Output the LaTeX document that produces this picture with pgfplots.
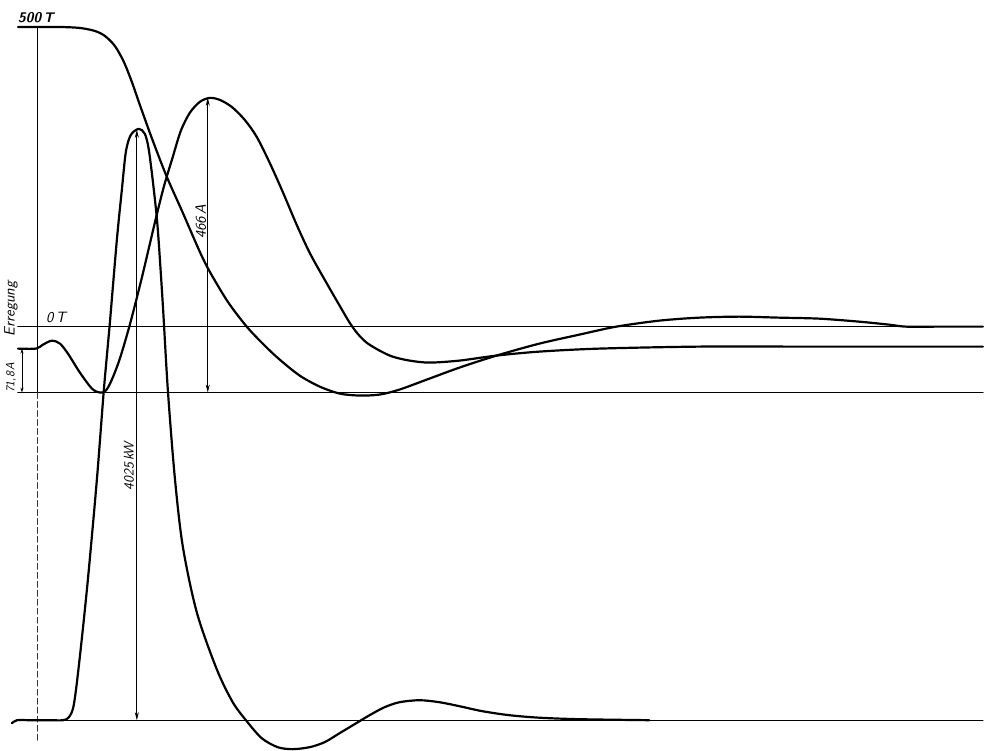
\documentclass[border=0pt]{standalone}
\usepackage{pgfplots}
\pgfplotsset{compat=1.18}
\usetikzlibrary{arrows.meta}
\begin{document}
\begin{tikzpicture}
\begin{axis}[
  scale only axis, width=984pt, height=751pt,
  xmin=0, xmax=984, ymin=0, ymax=751, y dir=reverse,
  hide axis, clip=false,
  every axis plot/.append style={line join=round, line cap=round},
]
\path[draw=none] (axis cs:0,0) rectangle (axis cs:984,751);
% reference lines
\addplot[black, line width=1.6pt] coordinates {(18,327)(984,327)};
\addplot[black, line width=1.6pt] coordinates {(18,393)(984,393)};
\addplot[black, line width=1.2pt] coordinates {(16,721)(984,721)};
\addplot[black, line width=0.8pt] coordinates {(37,27)(37,393)};
\addplot[black!80, line width=0.7pt, dash pattern=on 6pt off 3pt] coordinates {(37,393)(37,742)};
% torque curve 500T -> 0T
\addplot[black, line width=2.2pt, smooth] coordinates {
(18,27)(40,27)(60,27)(80,28)(95,31)(105,36)(115,46)(124,62)(132,82)(140,105)(153,141)(167,177)(183,213)(200,252)(210,272)(228,302)(247,327)(265,346)(280,360)(300,376)(320,387)(340,394)(360,396)(380,395)(400,390)(430,379)(460,368)(497,356)(540,344)(580,335)(617,327)(660,321)(700,318)(740,317)(780,318)(820,319)(860,322)(890,325)(907,327)(940,327)(984,327)};
% excitation current
\addplot[black, line width=2.2pt, smooth] coordinates {
(18,349)(36,349)(43,345)(52,341)(60,344)(68,354)(80,373)(92,389)(100,393)(106,391)(112,380)(120,359)(130,325)(142,278)(155,223)(164,187)(173,157)(181,131)(190,113)(200,102)(210,98)(220,100)(232,107)(245,120)(257,137)(270,163)(283,192)(297,225)(310,253)(325,280)(340,306)(350,323)(358,334)(367,343)(380,351)(393,357)(410,361)(430,363)(460,361)(497,356)(540,352)(600,349)(700,347)(800,347)(984,347)};
% power curve
\addplot[black, line width=2.2pt, smooth] coordinates {
(12,724)(17,721)(30,721)(50,721)(63,721)(69,718)(74,705)(80,657)(88,580)(97,480)(104,390)(110,323)(117,240)(122,190)(126,152)(131,135)(139,129)(145,134)(149,150)(154,190)(158,230)(163,305)(168,390)(175,478)(183,547)(197,613)(217,670)(233,703)(247,722)(262,739)(278,748)(293,750)(310,748)(325,743)(340,734)(355,725)(370,716)(385,708)(400,703)(420,701)(440,703)(460,707)(483,712)(510,716)(540,718.5)(580,720)(650,721)};
% dimension arrows
\addplot[black, line width=0.8pt, {Stealth[length=8pt,width=4pt]}-{Stealth[length=8pt,width=4pt]}] coordinates {(208,98)(208,393)};
\addplot[black, line width=0.8pt, {Stealth[length=8pt,width=4pt]}-{Stealth[length=8pt,width=4pt]}] coordinates {(137,130)(137,721)};
\addplot[black, line width=0.7pt, {Stealth[length=5pt,width=3pt]}-{Stealth[length=5pt,width=3pt]}] coordinates {(22,349)(22,393)};
% labels
\node[font=\fontsize{14}{16}\selectfont\sffamily\itshape\bfseries, inner sep=0pt] at (axis cs:36,18) {500\,T};
\node[font=\fontsize{15}{17}\selectfont\sffamily\itshape, inner sep=0pt] at (axis cs:56,318) {0\,T};
\node[font=\fontsize{15}{17}\selectfont\sffamily\itshape, inner sep=0pt, rotate=90] at (axis cs:11,309) {Erregung};
\node[font=\fontsize{12}{14}\selectfont\sffamily\itshape, inner sep=0pt, rotate=90] at (axis cs:11,378) {71,8\,A};
\node[font=\fontsize{15}{17}\selectfont\sffamily\itshape, inner sep=0pt, rotate=90] at (axis cs:201,222) {466\,A};
\node[font=\fontsize{14}{16}\selectfont\sffamily\itshape, inner sep=0pt, rotate=90] at (axis cs:129,467) {4025\,kW};
\end{axis}
\end{tikzpicture}
\end{document}
